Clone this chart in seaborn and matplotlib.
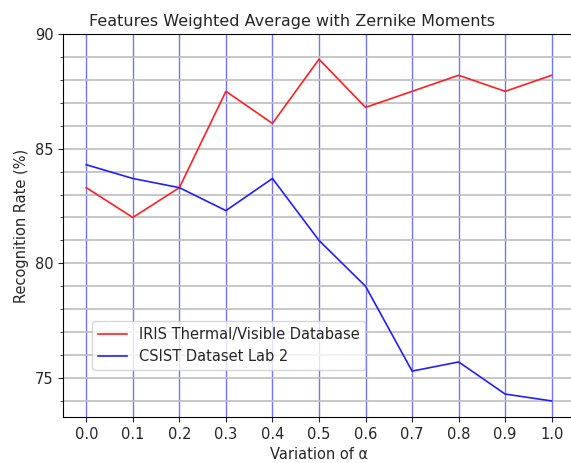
import numpy as np, pandas as pd, matplotlib
matplotlib.use("Agg")
import matplotlib.pyplot as plt
import seaborn as sns
from matplotlib.ticker import MultipleLocator

alpha_vals = [0.0, 0.1, 0.2, 0.3, 0.4, 0.5, 0.6, 0.7, 0.8, 0.9, 1.0]
iris = [83.3, 82.0, 83.3, 87.5, 86.1, 88.9, 86.8, 87.5, 88.2, 87.5, 88.2]
csist = [84.3, 83.7, 83.3, 82.3, 83.7, 81.0, 79.0, 75.3, 75.7, 74.3, 74.0]

df = pd.DataFrame({"alpha": alpha_vals * 2,
                   "rate": iris + csist,
                   "db": ["IRIS Thermal/Visible Database"] * 11 + ["CSIST Dataset Lab 2"] * 11})

txt = "#262626"
plt.rcParams.update({"text.color": txt, "axes.labelcolor": txt,
                     "xtick.color": txt, "ytick.color": txt,
                     "xtick.labelsize": 10.5, "ytick.labelsize": 10.5})

fig = plt.figure(figsize=(5.71, 4.63), dpi=100)
ax = fig.add_axes([63/571, 46/463, 512/571, 383/463])

sns.lineplot(data=df, x="alpha", y="rate", hue="db", ax=ax,
             palette={"IRIS Thermal/Visible Database": "#ff2020", "CSIST Dataset Lab 2": "#2020ff"},
             linewidth=1.2)

ax.set_xticks(alpha_vals)
ax.set_xlim(-0.05, 1.05)
ax.set_ylim(73.3, 90)
ax.yaxis.set_major_locator(MultipleLocator(5))
ax.yaxis.set_minor_locator(MultipleLocator(1))
ax.grid(True, which="major", axis="x", color="blue", alpha=0.55, linewidth=1)
ax.grid(True, which="both", axis="y", color="#bdbdbd", linewidth=1.2)
ax.set_axisbelow(True)

ax.set_title("Features Weighted Average with Zernike Moments", fontsize=11.5, x=0.447)
ax.set_xlabel("Variation of α", fontsize=10.5)
ax.set_ylabel("Recognition Rate (%)", fontsize=10.5)
ax.legend(loc="lower left", bbox_to_anchor=(0.057, 0.123), borderaxespad=0,
          title=None, fontsize=10.5)

fig.savefig("out.png", dpi=100)
